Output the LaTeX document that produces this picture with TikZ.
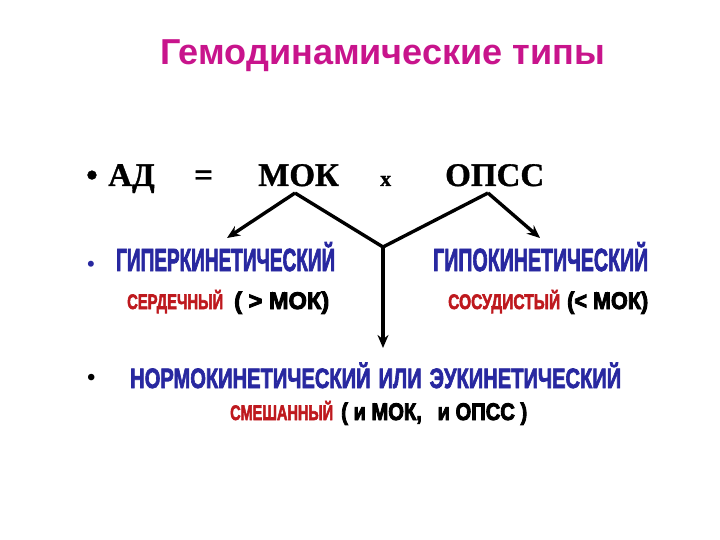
\documentclass[tikz,border=0pt]{standalone}
\usepackage{fontspec}
\usepackage{graphicx}
\setmainfont{Liberation Serif}
\newfontfamily\titlefont{Liberation Sans}
\newfontfamily\condfont{Liberation Sans}[FakeBold=3]
\newfontfamily\condheavy{Liberation Sans}[FakeBold=4]
\newfontfamily\serifheavy{Liberation Serif}[FakeBold=1]
\usetikzlibrary{arrows.meta}
\definecolor{ttl}{RGB}{200,20,140}
\definecolor{bl}{RGB}{40,40,160}
\definecolor{rd}{RGB}{190,25,30}
\newcommand\hfit[2]{\resizebox{#1pt}{\height}{#2}}
\tikzset{
  txt/.style={inner sep=0pt, anchor=base west},
  frm/.style={txt, font=\serifheavy\bfseries\fontsize{33}{33}\selectfont},
  conn/.style={line width=3.4pt, line join=miter},
  arr/.style={conn, -{Stealth[length=13pt,width=11pt]}},
  blue23/.style={txt, text=bl, font=\condfont\bfseries\fontsize{32}{32}\selectfont},
  blue20/.style={txt, text=bl, font=\condfont\bfseries\fontsize{28}{28}\selectfont},
  red15/.style={txt, text=rd, font=\condfont\bfseries\fontsize{21}{21}\selectfont},
  blk17/.style={txt, text=black, font=\condheavy\bfseries\fontsize{24}{24}\selectfont},
}
\begin{document}
\begin{tikzpicture}[x=1pt,y=-1pt]
\useasboundingbox (0,0) rectangle (720,540);
% title
\node[txt, text=ttl, font=\titlefont\bfseries] (title) at (160,65) {\resizebox{445pt}{!}{Гемодинамические типы}};
% formula row
\node[frm] (b1) at (86,186) {•};
\node[frm] (ad) at (108,186) {АД};
\node[frm] (eq) at (194,186) {=};
\node[frm] (mok) at (258,186) {МОК};
\node[txt, font=\serifheavy\bfseries\fontsize{22}{22}\selectfont] (x) at (380,186) {x};
\node[frm] (opss) at (445,186) {ОПСС};
% connector points
\coordinate (pm) at (295,193);
\coordinate (po) at (488,193);
\coordinate (j) at (383,247);
\coordinate (lt) at (227,238);
\coordinate (rt) at (540,238);
\coordinate (bt) at (383,348);
\draw[conn] (pm) -- (j) -- (po);
\draw[arr] (pm) -- (lt);
\draw[arr] (po) -- (rt);
\draw[arr] (j) -- (bt);
% row 2
\node[txt, text=bl, font=\bfseries\fontsize{22}{22}\selectfont] (b2) at (87,271) {•};
\node[blue23] (hyper) at (116,271) {\hfit{219}{ГИПЕРКИНЕТИЧЕСКИЙ}};
\node[blue23] (hypo) at (433,271) {\hfit{215}{ГИПОКИНЕТИЧЕСКИЙ}};
\node[red15] (serd) at (127,309) {\hfit{96}{СЕРДЕЧНЫЙ}};
\node[blk17] (gtm) at (234,309) {\hfit{95}{( > МОК)}};
\node[red15] (sos) at (448,309) {\hfit{112}{СОСУДИСТЫЙ}};
\node[blk17] (ltm) at (567,309) {\hfit{81}{(< МОК)}};
% row 3
\node[txt, font=\bfseries\fontsize{24}{24}\selectfont] (b3) at (87,385) {•};
\node[blue20] (norm) at (130,388) {\hfit{491}{НОРМОКИНЕТИЧЕСКИЙ\hspace{0.4em}ИЛИ\hspace{0.4em}ЭУКИНЕТИЧЕСКИЙ}};
\node[red15] (mix) at (230,420) {\hfit{103}{СМЕШАННЫЙ}};
\node[blk17] (both) at (341,420) {\hfit{186}{( и МОК,\hspace{0.5em} и ОПСС )}};
\end{tikzpicture}
\end{document}
